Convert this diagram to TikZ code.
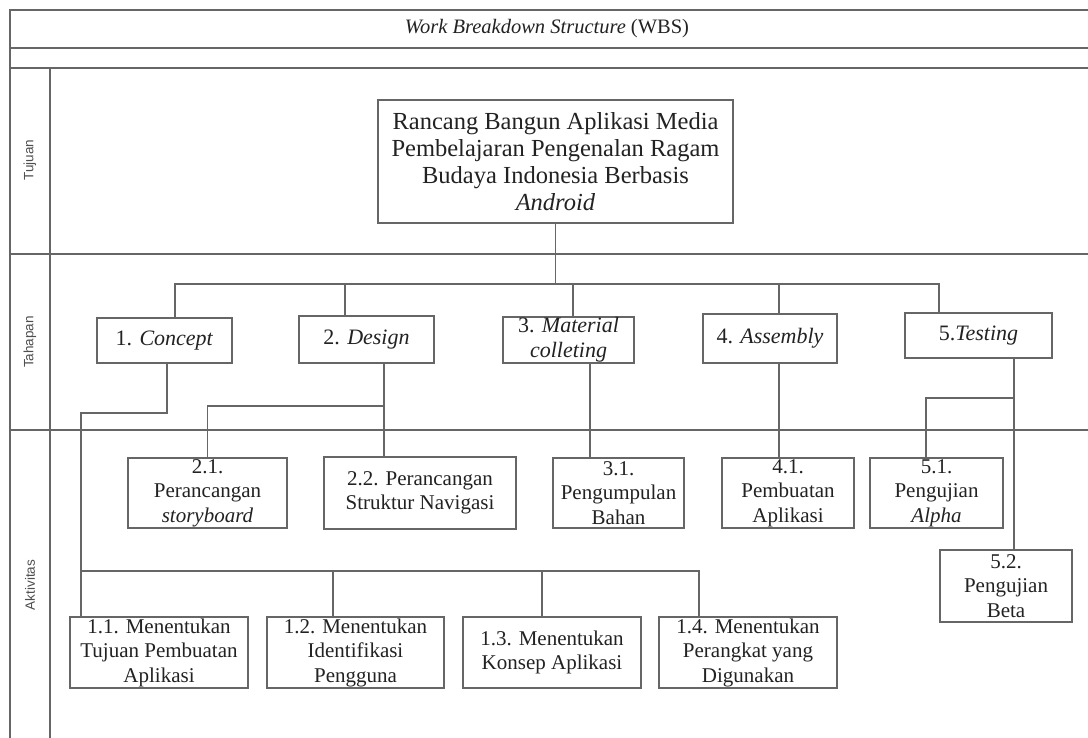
\documentclass[tikz,border=0pt]{standalone}
\usepackage{fontspec}
\setmainfont{Liberation Serif}
\newfontfamily\sidefont{Liberation Sans}
\definecolor{ln}{HTML}{666666}
\definecolor{tx}{HTML}{222222}
\tikzset{
  frameline/.style={draw=ln, line width=2pt},
  conn/.style={draw=ln, line width=1.5pt},
  box/.style={draw=ln, line width=1.5pt, fill=white, inner sep=0pt, align=center, text=tx},
  rootbox/.style={box, font=\fontsize{24.5}{27}\selectfont},
  stagebox/.style={box, font=\fontsize{22}{25}\selectfont},
  actbox/.style={box, font=\fontsize{21}{24.5}\selectfont},
  sidelabel/.style={rotate=90, text=tx!80, font=\sidefont\fontsize{13.5}{15}\selectfont}
}
\begin{document}
\begin{tikzpicture}[x=1pt,y=-1pt]
\useasboundingbox[fill=white] (0,0) rectangle (1088,738);
% frame
\draw[frameline] (1088,10) -- (10,10) -- (10,738);
\draw[frameline] (10,48) -- (1088,48);
\draw[frameline] (10,68) -- (1088,68);
\draw[frameline] (50,68) -- (50,738);
\draw[frameline] (10,254) -- (1088,254);
\draw[frameline] (10,430) -- (1088,430);
\node[text=tx, font=\fontsize{20.5}{23}\selectfont] (title) at (547,29) {\textit{Work Breakdown Structure} (WBS)};
\node[sidelabel] (ltuj) at (30,160) {Tujuan};
\node[sidelabel] (ltah) at (30,342) {Tahapan};
\node[sidelabel] (lakt) at (30,585) {Aktivitas};
% root
\node[rootbox, minimum width=355, minimum height=123] (root) at (555.5,161.5)
  {Rancang Bangun Aplikasi Media\\Pembelajaran Pengenalan Ragam\\Budaya Indonesia Berbasis\\\textit{Android}};
% stages
\node[stagebox, minimum width=135, minimum height=45] (s1) at (164.5,340.5) {1. \textit{Concept}};
\node[stagebox, minimum width=135, minimum height=47] (s2) at (366.5,339.5) {2. \textit{Design}};
\node[stagebox, minimum width=131, minimum height=46] (s3) at (568.5,340) {3. \textit{Material}\\\textit{colleting}};
\node[stagebox, minimum width=134, minimum height=49] (s4) at (770,338.5) {4. \textit{Assembly}};
\node[stagebox, minimum width=147, minimum height=45] (s5) at (978.5,335.5) {5.\textit{Testing}};
% activities
\node[actbox, minimum width=159, minimum height=70] (a21) at (207.5,493) {2.1.\\Perancangan\\\textit{storyboard}};
\node[actbox, minimum width=192, minimum height=72] (a22) at (420,493) {2.2. Perancangan\\Struktur Navigasi};
\node[actbox, minimum width=131, minimum height=70] (a31) at (618.5,493) {3.1.\\Pengumpulan\\Bahan};
\node[actbox, minimum width=132, minimum height=70] (a41) at (788,493) {4.1.\\Pembuatan\\Aplikasi};
\node[actbox, minimum width=133, minimum height=70] (a51) at (936.5,493) {5.1.\\Pengujian\\\textit{Alpha}};
\node[actbox, minimum width=132, minimum height=72] (a52) at (1006,586) {5.2.\\Pengujian\\Beta};
\node[actbox, minimum width=178, minimum height=71] (a11) at (159,652.5) {1.1. Menentukan\\Tujuan Pembuatan\\Aplikasi};
\node[actbox, minimum width=177, minimum height=71] (a12) at (355.5,652.5) {1.2. Menentukan\\Identifikasi\\Pengguna};
\node[actbox, minimum width=178, minimum height=71] (a13) at (552,652.5) {1.3. Menentukan\\Konsep Aplikasi};
\node[actbox, minimum width=178, minimum height=71] (a14) at (748,652.5) {1.4. Menentukan\\Perangkat yang\\Digunakan};
% junction coordinates
\coordinate (bus) at (555.5,284);
\coordinate (c1) at (81,413);
\coordinate (b1) at (81,571);
\coordinate (d2) at (384,406);
\coordinate (d5) at (1014,398);
% connectors level 1
\draw[conn] (root.south) -- (bus);
\draw[conn] ([xshift=10.5]s1.north) |- (bus) -| ([xshift=-39.5]s5.north);
\draw[conn] ([xshift=-21.5]s2.north) -- ([xshift=-21.5]s2.north |- bus);
\draw[conn] ([xshift=4.5]s3.north) -- ([xshift=4.5]s3.north |- bus);
\draw[conn] ([xshift=9]s4.north) -- ([xshift=9]s4.north |- bus);
% concept
\draw[conn] ([xshift=2.5]s1.south) |- (c1) -- ([xshift=-78]a11.north);
\draw[conn] (b1) -| ([xshift=-49]a14.north);
\draw[conn] ([xshift=-22.5]a12.north) -- ([xshift=-22.5]a12.north |- b1);
\draw[conn] ([xshift=-10]a13.north) -- ([xshift=-10]a13.north |- b1);
% design
\draw[conn] ([xshift=17.5]s2.south) -- ([xshift=-36]a22.north);
\draw[conn] (a21.north) |- (d2);
% material
\draw[conn] ([xshift=21.5]s3.south) -- ([xshift=-28.5]a31.north);
% assembly
\draw[conn] ([xshift=9]s4.south) -- ([xshift=-9]a41.north);
% testing
\draw[conn] ([xshift=35.5]s5.south) -- ([xshift=8]a52.north);
\draw[conn] ([xshift=-10.5]a51.north) |- (d5);
\end{tikzpicture}
\end{document}
